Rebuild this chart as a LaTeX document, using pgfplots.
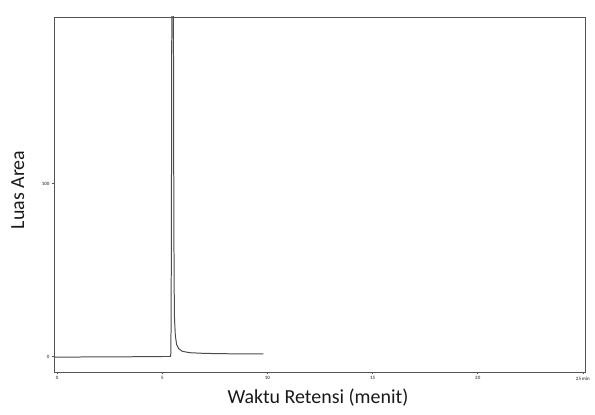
\documentclass[border=0pt]{standalone}
\usepackage{pgfplots}
\pgfplotsset{compat=1.18}
\usepackage{fontspec}
\setmainfont{Carlito}

\begin{document}
\begin{tikzpicture}[x=1bp,y=1bp]
\useasboundingbox (0,0) rectangle (595,414);
\begin{axis}[
  at={(54bp,42bp)}, anchor=south west,
  scale only axis,
  width=531bp, height=355bp,
  xmin=-0.15, xmax=25.1,
  ymin=-8.96, ymax=196.2,
  axis line style={gray!65!black, line width=0.9pt},
  xtick={0,5,10,15,20,25},
  xticklabels={0,5,10,15,20,25\,min},
  ytick={0,100},
  yticklabels={0,100},
  xtick pos=bottom, ytick pos=left,
  tick align=outside,
  major tick length=2bp,
  tick style={gray!65!black, line width=0.6pt},
  ticklabel style={font=\fontsize{5}{6}\selectfont\bfseries, text=gray!70!black},
  xticklabel style={yshift=1bp},
  yticklabel style={xshift=1bp},
  xlabel={Waktu Retensi (menit)},
  ylabel={Luas Area},
  label style={font=\fontsize{20}{24}\selectfont, text=black!90},
  xlabel style={at={(axis description cs:0.497,-0.073)}, anchor=center},
  ylabel style={at={(axis description cs:-0.068,0.513)}, anchor=center, rotate=0},
  clip=true,
]
% chromatogram trace: flat baseline, one sharp off-scale peak near 5.5 min
\addplot[gray!60!black, line width=1.0pt, line join=round] coordinates {
  (-0.15,-0.3) (1,-0.3) (2,-0.2) (3,-0.2) (4,-0.1) (5,0) (5.40,0)
  (5.42,20) (5.44,120) (5.46,260) (5.48,420)
  (5.50,420) (5.52,260) (5.54,120) (5.56,45) (5.58,22)
  (5.62,12) (5.68,7) (5.78,4.5) (5.95,3) (6.3,2.2) (7,1.8)
  (8,1.6) (9,1.5) (9.8,1.5)
};
\node[font=\fontsize{5}{6}\selectfont\bfseries, text=gray!70!black, anchor=south east]
  at (axis description cs:-0.005,1.0) {mV};
\end{axis}
\end{tikzpicture}
\end{document}
